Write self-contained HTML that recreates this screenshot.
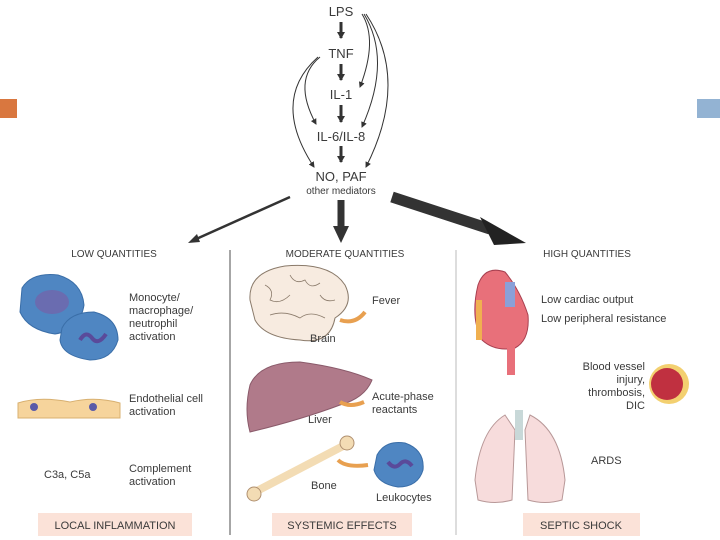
<!DOCTYPE html>
<html><head><style>
html,body{margin:0;padding:0;background:#fff;}
svg{display:block;}
text{font-family:"Liberation Sans",sans-serif;fill:#3a3a3a;}
</style></head><body>
<svg width="720" height="540" viewBox="0 0 720 540" xmlns="http://www.w3.org/2000/svg">
<defs>
<marker id="ah" markerWidth="8" markerHeight="8" refX="6" refY="4" orient="auto" markerUnits="userSpaceOnUse"><path d="M0,0 L7,4 L0,8 Z" fill="#333"/></marker>
<marker id="sh" markerWidth="6" markerHeight="6" refX="5" refY="3" orient="auto" markerUnits="userSpaceOnUse"><path d="M0,0 L6,3 L0,6 Z" fill="#333"/></marker>
</defs>
<rect x="0" y="99" width="17" height="19" fill="#d9773f"/>
<rect x="697" y="99" width="23" height="19" fill="#93b3d3"/>
<g font-size="13" text-anchor="middle">
<text x="341" y="16">LPS</text>
<text x="341" y="58">TNF</text>
<text x="341" y="99">IL-1</text>
<text x="341" y="141">IL-6/IL-8</text>
<text x="341" y="181">NO, PAF</text>
<text x="341" y="194" font-size="10">other mediators</text>
</g>
<g stroke="#333" stroke-width="3">
<line x1="341" y1="22" x2="341" y2="38" marker-end="url(#ah)"/>
<line x1="341" y1="64" x2="341" y2="80" marker-end="url(#ah)"/>
<line x1="341" y1="105" x2="341" y2="122" marker-end="url(#ah)"/>
<line x1="341" y1="146" x2="341" y2="162" marker-end="url(#ah)"/>
</g>
<g stroke="#333" stroke-width="1" fill="none">
<path d="M362,14 Q378,40 360,87" marker-end="url(#sh)"/>
<path d="M364,14 Q392,60 362,127" marker-end="url(#sh)"/>
<path d="M366,14 Q410,80 366,167" marker-end="url(#sh)"/>
<path d="M320,57 Q292,80 316,124" marker-end="url(#sh)"/>
<path d="M318,57 Q270,100 314,167" marker-end="url(#sh)"/>
</g>
<line x1="290" y1="197" x2="194" y2="240" stroke="#333" stroke-width="2.5"/>
<path d="M188,243 L197,234 L200,242 Z" fill="#333"/>
<line x1="341" y1="200" x2="341" y2="228" stroke="#333" stroke-width="7"/>
<path d="M333,226 L349,226 L341,243 Z" fill="#333"/>
<line x1="392" y1="197" x2="490" y2="229" stroke="#333" stroke-width="11"/>
<path d="M480,217 L526,243 L494,245 Z" fill="#222"/>
<line x1="230" y1="250" x2="230" y2="535" stroke="#888" stroke-width="1.5"/>
<line x1="456" y1="250" x2="456" y2="535" stroke="#bbb" stroke-width="1"/>
<g font-size="10" text-anchor="middle">
<text x="114" y="257">LOW QUANTITIES</text>
<text x="345" y="257">MODERATE QUANTITIES</text>
<text x="587" y="257">HIGH QUANTITIES</text>
</g>
<path d="M22,288 Q32,272 58,275 Q82,282 84,305 Q80,330 55,334 Q28,330 20,312 Z" fill="#4f86c2" stroke="#3a6ea8"/>
<ellipse cx="52" cy="302" rx="17" ry="12" fill="#6a6cb0"/>
<path d="M62,328 Q70,312 94,312 Q118,318 118,340 Q112,360 90,360 Q62,356 60,340 Z" fill="#4f86c2" stroke="#3a6ea8"/>
<path d="M80,340 q6,-10 12,-2 q6,8 14,-4" stroke="#5a4a9a" stroke-width="4" fill="none"/>
<g font-size="11"><text x="129" y="301">Monocyte/</text><text x="129" y="314">macrophage/</text><text x="129" y="327">neutrophil</text><text x="129" y="340">activation</text>
<text x="129" y="402">Endothelial cell</text><text x="129" y="415">activation</text>
<text x="129" y="472">Complement</text><text x="129" y="485">activation</text>
<text x="44" y="478">C3a, C5a</text></g>
<path d="M18,403 Q40,396 70,402 Q95,396 120,403 L120,418 L18,418 Z" fill="#f6d49c" stroke="#d8b070"/>
<circle cx="34" cy="407" r="4" fill="#5a5aa8"/><circle cx="93" cy="407" r="4" fill="#5a5aa8"/>
<path d="M250,300 Q248,272 285,266 Q330,262 345,285 Q355,305 335,318 Q330,345 300,340 Q265,338 255,320 Z" fill="#f7ebe0" stroke="#8a7a6a"/>
<g stroke="#8a7a6a" fill="none" stroke-width="0.8"><path d="M265,285 q10,5 5,15 q10,5 20,-5"/><path d="M290,275 q5,10 15,5 q5,10 15,3"/><path d="M270,315 q15,-5 30,3 q10,-8 25,0"/><path d="M320,295 q5,8 15,5"/></g>
<path d="M340,320 q15,5 25,-8" stroke="#e8a050" stroke-width="4" fill="none"/>
<g font-size="11"><text x="372" y="304">Fever</text><text x="310" y="342">Brain</text>
<text x="372" y="400">Acute-phase</text><text x="372" y="413">reactants</text>
<text x="308" y="423">Liver</text><text x="311" y="489">Bone</text><text x="376" y="501">Leukocytes</text></g>
<path d="M250,385 Q260,362 300,362 Q345,368 372,380 Q365,398 340,405 Q300,420 250,432 Q244,410 250,385 Z" fill="#b07a8a" stroke="#8a5a6a"/>
<path d="M340,402 q10,6 24,0" stroke="#e8a050" stroke-width="4" fill="none"/>
<path d="M255,492 L345,445" stroke="#f3dcb4" stroke-width="8" stroke-linecap="round"/>
<circle cx="347" cy="443" r="7" fill="#f3dcb4" stroke="#b09070"/><circle cx="254" cy="494" r="7" fill="#f3dcb4" stroke="#b09070"/>
<path d="M338,460 q8,8 30,5" stroke="#e8a050" stroke-width="4" fill="none"/>
<path d="M377,455 Q385,440 405,443 Q425,450 423,470 Q418,487 398,487 Q378,484 374,470 Z" fill="#4f86c2" stroke="#3a6ea8"/>
<path d="M388,462 q6,8 12,2 q6,-6 12,2" stroke="#5a4a9a" stroke-width="4" fill="none"/>
<path d="M478,285 Q485,265 505,272 Q520,290 528,315 Q530,340 515,348 Q495,352 482,340 Q470,318 478,285 Z" fill="#e8707a" stroke="#a84050"/>
<rect x="505" y="282" width="10" height="25" fill="#8aa0d8"/>
<rect x="507" y="340" width="8" height="35" fill="#e8707a"/>
<rect x="476" y="300" width="6" height="40" fill="#f0b050"/>
<g font-size="11"><text x="541" y="303">Low cardiac output</text><text x="541" y="322">Low peripheral resistance</text>
<g text-anchor="end"><text x="645" y="370">Blood vessel</text><text x="645" y="383">injury,</text><text x="645" y="396">thrombosis,</text><text x="645" y="409">DIC</text></g>
<text x="591" y="464">ARDS</text></g>
<circle cx="669" cy="384" r="20" fill="#f3d070"/>
<circle cx="667" cy="384" r="16" fill="#c03040"/>
<path d="M505,415 Q480,430 475,480 L478,500 Q495,505 512,500 L515,430 Z" fill="#f7dcdc" stroke="#b89898"/>
<path d="M530,415 Q560,430 565,480 L562,500 Q545,505 528,500 L525,430 Z" fill="#f7dcdc" stroke="#b89898"/>
<rect x="515" y="410" width="8" height="30" fill="#c8d8d8"/>
<rect x="38" y="513" width="154" height="23" fill="#fbe2d8"/>
<rect x="272" y="513" width="140" height="23" fill="#fbe2d8"/>
<rect x="523" y="513" width="117" height="23" fill="#fbe2d8"/>
<g font-size="11" text-anchor="middle"><text x="115" y="529">LOCAL INFLAMMATION</text><text x="342" y="529">SYSTEMIC EFFECTS</text><text x="581" y="529">SEPTIC SHOCK</text></g>
</svg>
</body></html>
